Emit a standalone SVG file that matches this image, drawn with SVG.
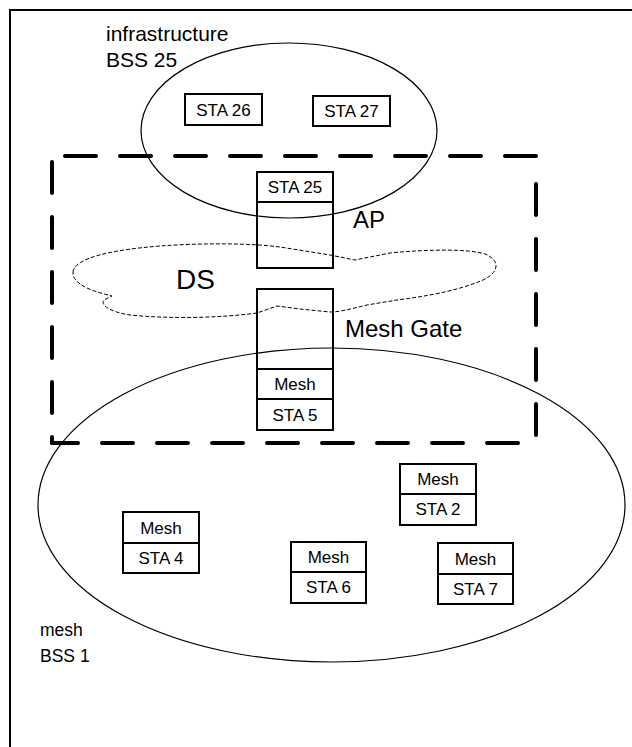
<svg xmlns="http://www.w3.org/2000/svg" width="632" height="747" viewBox="0 0 632 747">
<style>
text{font-family:"Liberation Sans",Arial,sans-serif;fill:#000}
.box{fill:none;stroke:#000;stroke-width:2}
.bt{font-size:17px;text-anchor:middle}
.ell{fill:none;stroke:#000;stroke-width:1.2}
.dash{fill:none;stroke:#000;stroke-width:4;stroke-linecap:round;stroke-dasharray:31 24}
</style>
<rect width="632" height="747" fill="#fff"/>
<rect x="10" y="10" width="700" height="800" fill="none" stroke="#000" stroke-width="2"/>

<g id="infrastructure-bss">
<ellipse class="ell" cx="289" cy="130.5" rx="148" ry="87.5" stroke-width="1"/>
<text x="106" y="41" font-size="21">infrastructure</text>
<text x="106" y="66.5" font-size="21">BSS 25</text>
</g>

<g id="mesh-bss">
<ellipse class="ell" cx="331.5" cy="505" rx="293.5" ry="157"/>
<text x="40" y="636" font-size="17.5">mesh</text>
<text x="40" y="662" font-size="17.5">BSS 1</text>
</g>

<g id="ds">
<path fill="none" stroke="#000" stroke-width="1" stroke-dasharray="4 2" d="M73,272 C75,258 110,250 160,246 C200,243 250,243 280,247 L330,255 L355,260 L390,253 C430,249 470,249 485,254 C500,260 500,272 483,280 C455,292 420,297 397,300 L367,305 C350,309 340,312 330,312 L300,309 L277,306 L257,313 C220,318 170,319 130,315 C110,312 100,305 104,300 L112,296 C95,292 72,285 73,272 Z"/>
<text x="176" y="289" font-size="28">DS</text>
</g>

<g id="portal">
<path class="dash" d="M65,156 H536"/>
<path class="dash" d="M536,184 V443"/>
<path class="dash" d="M52,443 H536" stroke-dashoffset="5"/>
<path class="dash" d="M52,162 V443"/>
</g>

<g id="sta26">
<rect class="box" x="185" y="94" width="77" height="31"/>
<text class="bt" x="223.5" y="115.5">STA 26</text>
</g>
<g id="sta27">
<rect class="box" x="313" y="96" width="77" height="30"/>
<text class="bt" x="351.5" y="117">STA 27</text>
</g>

<g id="ap">
<rect class="box" x="257" y="172" width="76" height="96"/>
<line class="box" x1="257" y1="202" x2="333" y2="202"/>
<text class="bt" x="295" y="192.5">STA 25</text>
<text x="353" y="228.3" font-size="24">AP</text>
</g>

<g id="meshgate">
<rect class="box" x="257" y="289" width="76" height="141"/>
<line class="box" x1="257" y1="369" x2="333" y2="369"/>
<line class="box" x1="257" y1="399" x2="333" y2="399"/>
<text class="bt" x="295" y="390">Mesh</text>
<text class="bt" x="295" y="420.5">STA 5</text>
<text x="345" y="336.7" font-size="24">Mesh Gate</text>
</g>

<g id="sta4">
<rect class="box" x="123" y="512" width="76" height="61"/>
<line class="box" x1="123" y1="543" x2="199" y2="543"/>
<text class="bt" x="161" y="533.5">Mesh</text>
<text class="bt" x="161" y="563.5">STA 4</text>
</g>
<g id="sta6">
<rect class="box" x="291" y="542" width="75" height="61"/>
<line class="box" x1="291" y1="572" x2="366" y2="572"/>
<text class="bt" x="328.5" y="563">Mesh</text>
<text class="bt" x="328.5" y="593">STA 6</text>
</g>
<g id="sta2">
<rect class="box" x="400" y="464" width="76" height="61"/>
<line class="box" x1="400" y1="494" x2="476" y2="494"/>
<text class="bt" x="438" y="485">Mesh</text>
<text class="bt" x="438" y="515">STA 2</text>
</g>
<g id="sta7">
<rect class="box" x="438" y="543" width="75" height="61"/>
<line class="box" x1="438" y1="574" x2="513" y2="574"/>
<text class="bt" x="475.5" y="564.5">Mesh</text>
<text class="bt" x="475.5" y="594.5">STA 7</text>
</g>
<g id="connectors"/>
</svg>
